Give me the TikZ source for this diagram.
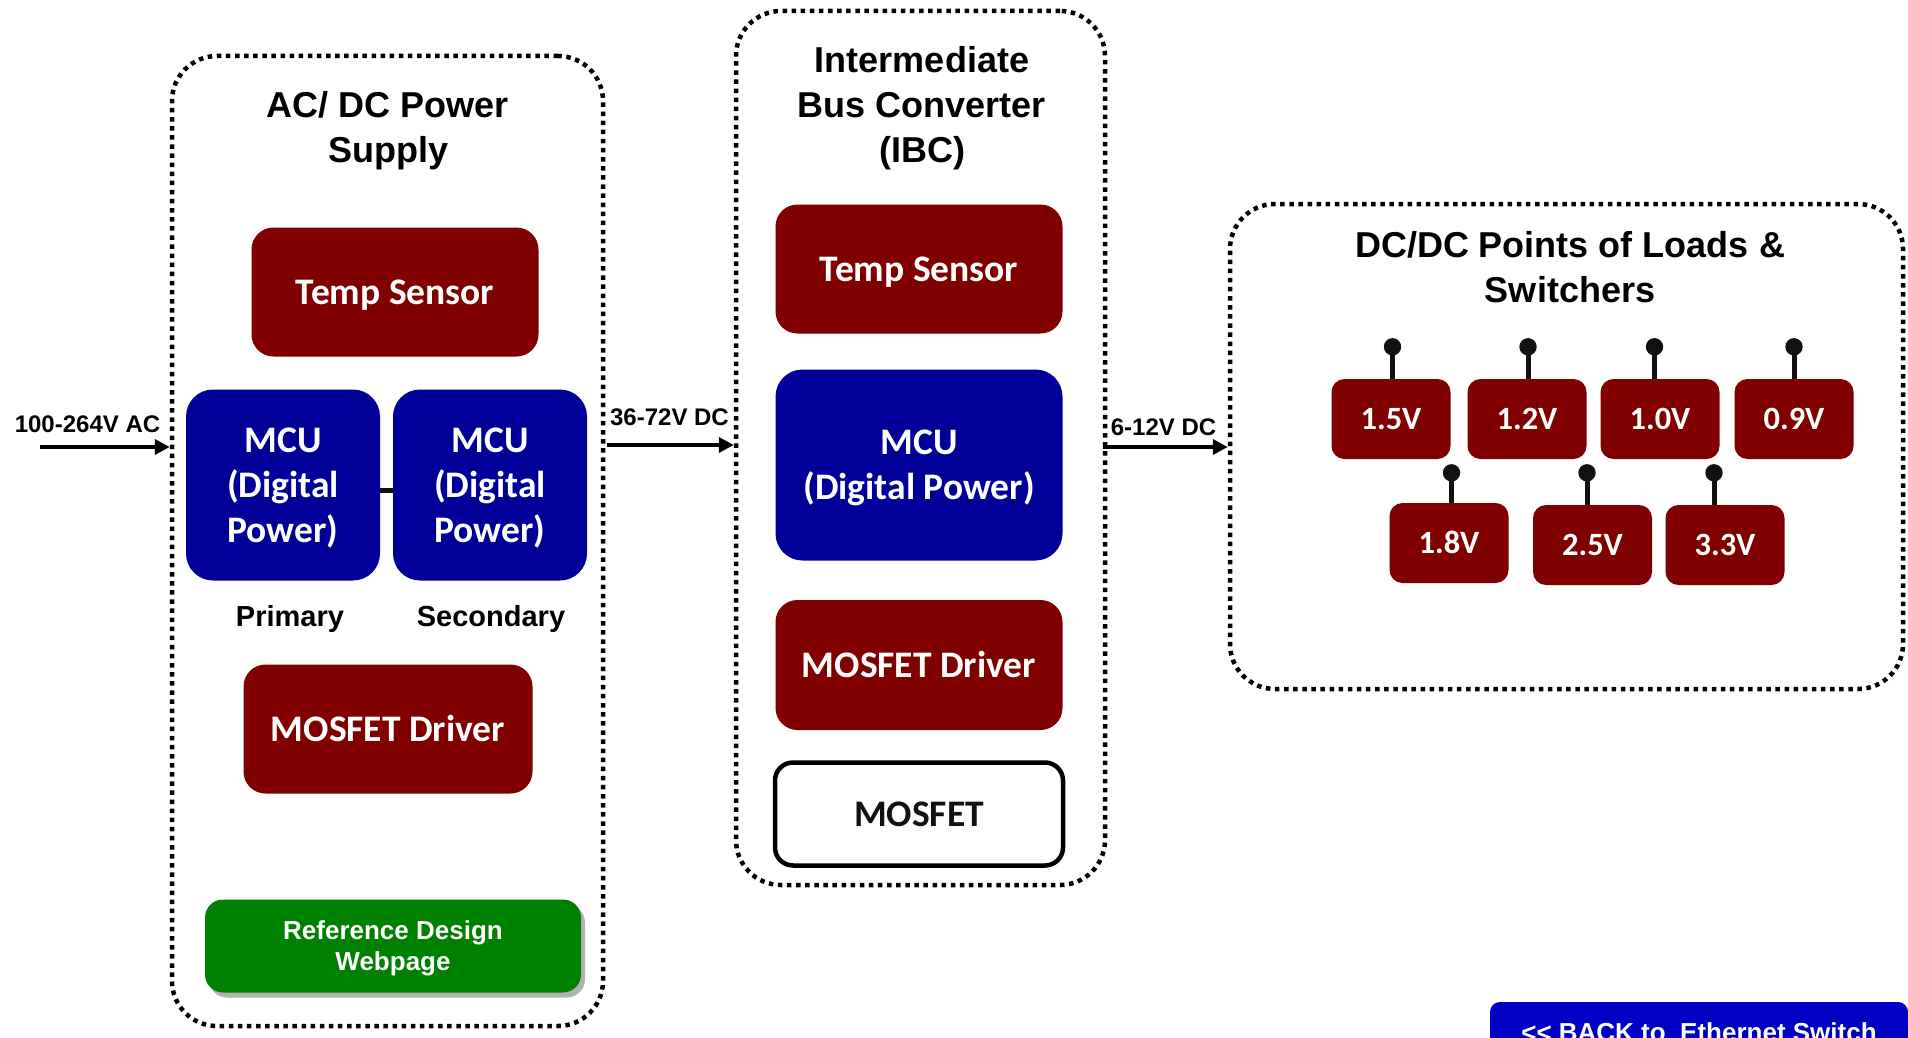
\documentclass[tikz,border=0pt]{standalone}
\usepackage{fontspec}
\setmainfont{Liberation Sans}
\newfontfamily\calfont{Carlito}
\usetikzlibrary{arrows.meta,shadows}
\definecolor{boxred}{HTML}{800000}
\definecolor{boxblue}{HTML}{000099}
\definecolor{boxgreen}{HTML}{008000}
\definecolor{btnblue}{HTML}{0000C4}
\definecolor{pincol}{HTML}{111111}
\tikzset{
  groupbox/.style={draw=black, line width=4.5pt, dash pattern=on 4.5pt off 4.6pt, rounded corners=45pt, inner sep=0pt},
  redbox/.style={fill=boxred, rounded corners=22pt, text=white, font=\calfont\bfseries\fontsize{37.5}{45}\selectfont, align=center, inner sep=0pt, text height=24pt, text depth=0pt},
  bluebox/.style={fill=boxblue, rounded corners=27pt, text=white, font=\calfont\bfseries\fontsize{37.5}{45}\selectfont, align=center, inner sep=0pt, minimum width=194pt, minimum height=191pt, text height=114pt, text depth=0pt},
  voltbox/.style={fill=boxred, rounded corners=13pt, text=white, font=\calfont\bfseries\fontsize{32.5}{38}\selectfont, inner sep=0pt, text height=21pt, text depth=0pt, minimum width=119pt, minimum height=80pt},
  title/.style={font=\bfseries\fontsize{36}{45}\selectfont, align=center, anchor=base, inner sep=0pt},
  lbl/.style={font=\bfseries\fontsize{29}{34}\selectfont, inner sep=0pt},
  arrlbl/.style={font=\bfseries\fontsize{24}{28}\selectfont, inner sep=0pt, anchor=base},
  flow/.style={line width=4.5pt, -{Triangle[length=15pt,width=15pt]}},
  pinline/.style={draw=pincol, line width=5pt},
}
\begin{document}
\begin{tikzpicture}[x=1pt,y=-1pt]
\useasboundingbox[fill=white] (0,0) rectangle (1908,1038);

% group boxes
\node[groupbox, minimum width=431pt, minimum height=970pt] (acdc) at (387.5,541) {};
\node[groupbox, minimum width=369pt, minimum height=874pt] (ibc) at (920.5,448) {};
\node[groupbox, minimum width=673pt, minimum height=485pt] (pol) at (1566.5,446.5) {};

% titles (base = baseline of the last line)
\node[title] (t1) at (388,162) {AC/ DC Power\\Supply};
\node[title] (t2) at (922,162) {Intermediate\\Bus Converter\\(IBC)};
\node[title] (t3) at (1570,302) {DC/DC Points of Loads \&\\Switchers};

% left group
\node[redbox, minimum width=287pt, minimum height=129pt] (ts1) at (395,292) {Temp Sensor};
\node[bluebox] (mcu1) at (283,485) {MCU\\(Digital\\Power)};
\node[bluebox] (mcu2) at (490,485) {MCU\\(Digital\\Power)};
\draw[line width=5pt, draw=pincol] ([yshift=-5pt]mcu1.east) -- ([yshift=-5pt]mcu2.west);
\node[lbl] (prim) at (290,619) {Primary};
\node[lbl] (sec) at (491,619) {Secondary};
\node[redbox, minimum width=289pt, minimum height=129pt] (md1) at (388,729) {MOSFET Driver};
\node[fill=boxgreen, rounded corners=18pt, text=white, font=\bfseries\fontsize{26}{31}\selectfont, align=center, inner sep=0pt, text height=49.6pt, text depth=0pt, minimum width=376pt, minimum height=93pt, drop shadow={shadow xshift=4pt, shadow yshift=-5pt, opacity=0.3, fill=black}] (web) at (393,946) {Reference Design\\Webpage};

% middle group
\node[redbox, minimum width=287pt, minimum height=129pt] (ts2) at (919,269) {Temp Sensor};
\node[bluebox, minimum width=287pt, minimum height=191pt, text height=69pt] (mcu3) at (919,465) {MCU\\(Digital Power)};
\node[redbox, minimum width=287pt, minimum height=130pt] (md2) at (919,665) {MOSFET Driver};
\node[draw=black, line width=4.5pt, fill=white, rounded corners=18pt, text=pincol, font=\calfont\bfseries\fontsize{37.5}{45}\selectfont, inner sep=0pt, text height=24pt, text depth=0pt, minimum width=288pt, minimum height=103pt] (mos) at (919,814) {MOSFET};

% voltage boxes
\node[voltbox] (v15) at (1391,419) {1.5V};
\node[voltbox] (v12) at (1527,419) {1.2V};
\node[voltbox] (v10) at (1660,419) {1.0V};
\node[voltbox] (v09) at (1794,419) {0.9V};
\node[voltbox] (v18) at (1449,543) {1.8V};
\node[voltbox] (v25) at (1592.5,545) {2.5V};
\node[voltbox] (v33) at (1725,545) {3.3V};

\foreach \n/\dx/\len in {v15/1.5/32, v12/1/32, v10/-5.5/32, v09/0/32, v18/2.5/30, v25/-5.5/32, v33/-11/32}{
  \draw[pinline] ([xshift=\dx pt]\n.north) -- ++(0,-\len) coordinate (p\n);
  \fill[pincol] (p\n) circle (8.7);
}

% arrows and labels
\coordinate (acin) at (40,447);
\draw[flow] (acin) -- (acdc.west |- acin);
\node[arrlbl] (l1) at (87.5,432) {100-264V AC};
\coordinate (dc1) at (607,445);
\draw[flow] (dc1) -- (ibc.west |- dc1);
\node[arrlbl] (l2) at (669.5,425) {36-72V DC};
\coordinate (dc2) at (1103,447);
\draw[flow] (dc2) -- (pol.west |- dc2);
\node[arrlbl] (l3) at (1163.5,435) {6-12V DC};

% back button
\node[fill=btnblue, rounded corners=10pt, text=white, font=\bfseries\fontsize{26}{30}\selectfont, inner sep=0pt, text height=18.6pt, text depth=0pt, minimum width=418pt, minimum height=59.4pt, anchor=base] (back) at (1699,1041) {<{}< BACK to~~Ethernet Switch};
\end{tikzpicture}
\end{document}
